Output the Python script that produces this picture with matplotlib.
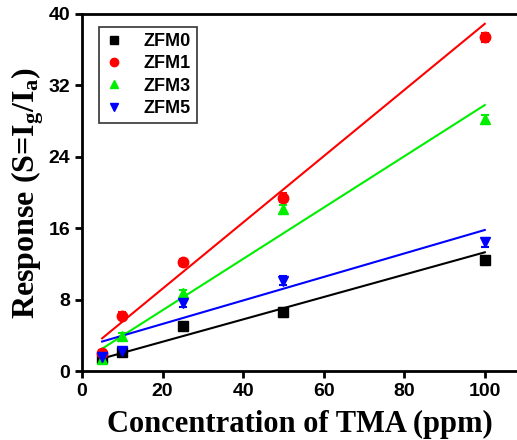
import matplotlib
matplotlib.use("Agg")
import matplotlib.pyplot as plt

plt.rcParams["mathtext.fontset"] = "custom"
plt.rcParams["mathtext.rm"] = "Liberation Serif:bold"
plt.rcParams["mathtext.bf"] = "Liberation Serif:bold"
plt.rcParams["mathtext.it"] = "Liberation Serif:bold"

conc = [5, 10, 25, 50, 100]
names = ["ZFM0", "ZFM1", "ZFM3", "ZFM5"]
colors = ["black", "#ff0000", "#00ee00", "#0000ff"]
markers = ["s", "o", "^", "v"]
resp_zfm0 = [1.5, 2.1, 5.0, 6.6, 12.4]
resp_zfm1 = [2.0, 6.2, 12.2, 19.4, 37.4]
resp_zfm3 = [1.3, 3.9, 8.7, 18.1, 28.2]
resp_zfm5 = [1.6, 2.2, 7.6, 10.1, 14.4]
err = [0.4, 0.4, 0.4, 0.5, 0.5]
fit_x = [5, 100]
fit_zfm0 = [1.4, 13.3]
fit_zfm1 = [3.66, 38.9]
fit_zfm3 = [2.5, 29.8]
fit_zfm5 = [3.3, 15.8]

resp = [resp_zfm0, resp_zfm1, resp_zfm3, resp_zfm5]
fits = [fit_zfm0, fit_zfm1, fit_zfm3, fit_zfm5]

fig = plt.figure(figsize=(5.17, 4.4), dpi=100)
ax = fig.add_axes([0.1586, 0.1568, 0.8414, 0.8114])

for n, c, m, r, f in zip(names, colors, markers, resp, fits):
    ax.plot(fit_x, f, color=c, lw=1.5, zorder=2)
    ax.errorbar(conc, r, yerr=err, fmt=m, color=c, ms=7.5, capsize=3,
                elinewidth=1.5, capthick=1.5, label=n, zorder=3)

ax.set_xlim(0, 108)
ax.set_ylim(0, 40)
ax.set_xticks([0, 20, 40, 60, 80, 100])
ax.set_yticks([0, 8, 16, 24, 32, 40])
for s in ["left", "bottom", "top"]:
    ax.spines[s].set_linewidth(2)
ax.spines["right"].set_visible(False)
ax.tick_params(direction="out", length=5, width=2, labelsize=14)
for lab in ax.get_xticklabels() + ax.get_yticklabels():
    lab.set_fontfamily("Liberation Sans")
    lab.set_fontweight("bold")

ax.set_xlabel("Concentration of TMA (ppm)", fontfamily="Liberation Serif",
              fontweight="bold", fontsize=22, labelpad=7)
ax.set_ylabel(r"Response (S=I$_\mathbf{g}$/I$_\mathbf{a}$)", fontfamily="Liberation Serif",
              fontweight="bold", fontsize=23, labelpad=2)

handles = [plt.Line2D([], [], ls="none", marker=m, color=c, ms=6) for m, c in zip(markers, colors)]
leg = ax.legend(handles, names, loc="upper left", bbox_to_anchor=(0.018, 0.99),
                frameon=True, fancybox=False, edgecolor="black", handlelength=1.0,
                handletextpad=1.1, labelspacing=0.3, borderpad=0.35,
                prop={"family": "Liberation Sans", "weight": "bold", "size": 13})
leg.get_frame().set_linewidth(1.2)

fig.savefig("out.png", dpi=100)
